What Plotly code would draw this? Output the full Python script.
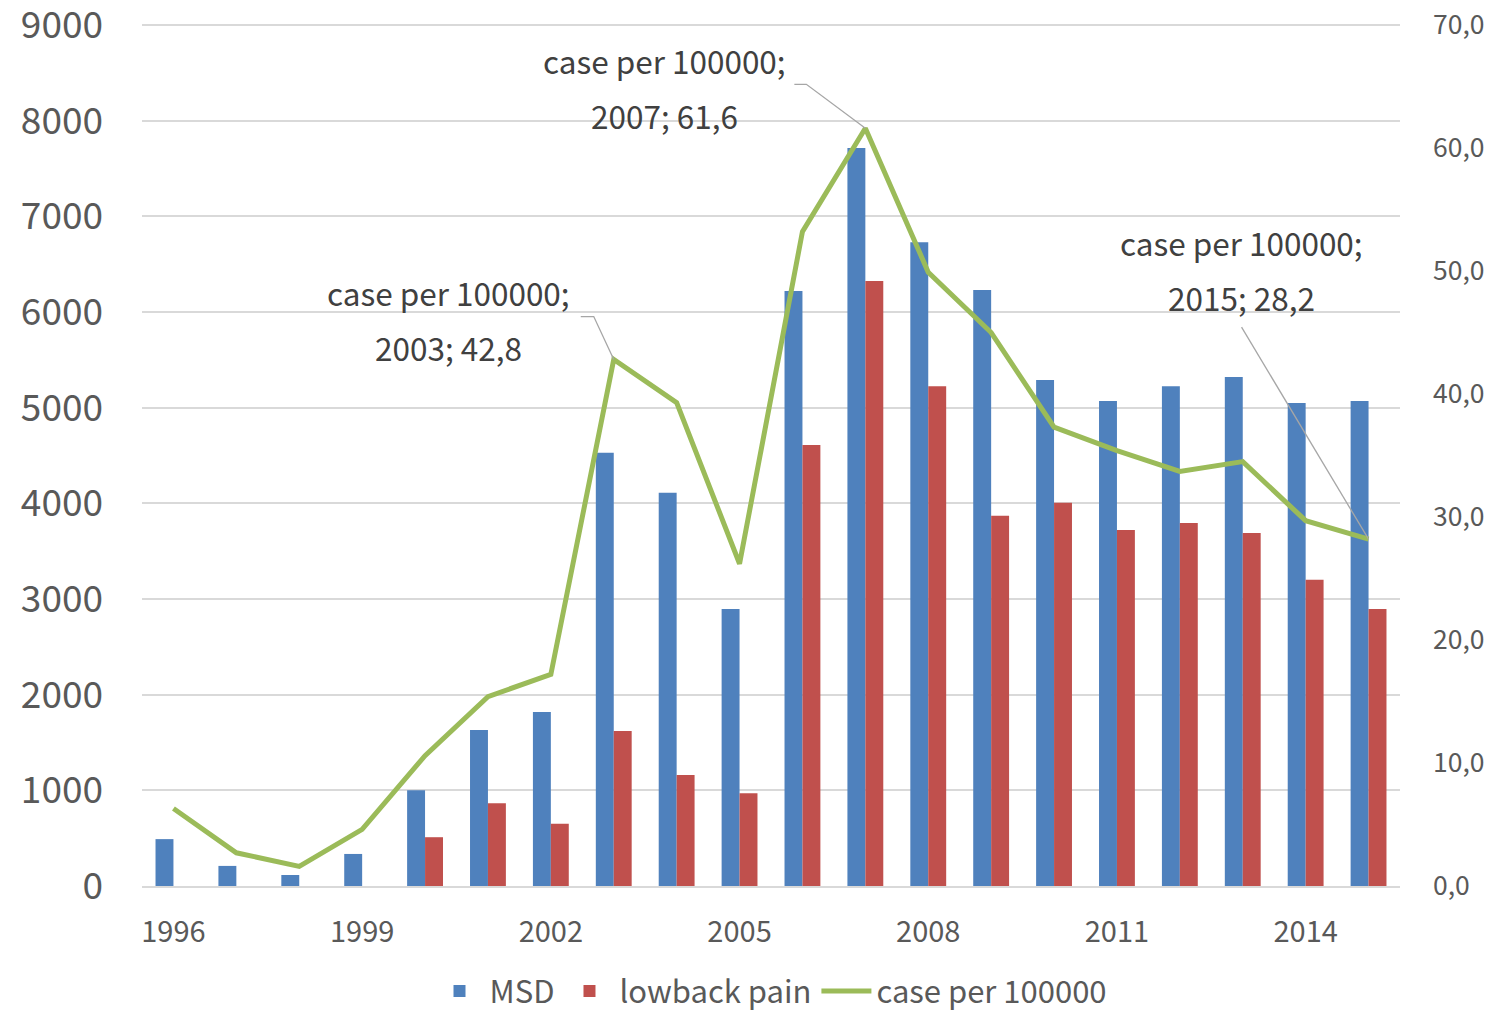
import plotly.graph_objects as go

years = list(range(1996, 2016))
msd = [490, 210, 115, 335, 1000, 1630, 1820, 4530, 4110, 2895, 6220, 7715, 6730, 6230, 5290, 5070, 5225, 5320, 5050, 5070]
lowback = [0, 0, 0, 0, 510, 865, 650, 1620, 1160, 970, 4610, 6325, 5225, 3870, 4005, 3720, 3795, 3690, 3200, 2895]
rate = [6.3, 2.7, 1.6, 4.6, 10.6, 15.4, 17.2, 42.8, 39.3, 26.2, 53.2, 61.6, 49.9, 45.0, 37.3, 35.4, 33.7, 34.5, 29.7, 28.2]

left_ticks = list(range(0, 9001, 1000))
right_ticks = list(range(0, 71, 10))
right_text = [f"{v},0" for v in right_ticks]
x_ticks = [1996, 1999, 2002, 2005, 2008, 2011, 2014]

# labelled points: year, text offset (px), leader path (px, relative to point)
label_years = [2003, 2007, 2015]
label_text_dx = [-165, -201, -127]
label_text_dy = [68, 68, 297]  # upward offset of first line
label_leaders = [
    "M 0 0 L -20 43 L -33 43",
    "M 0 0 L -59 44 L -71 44",
    "M 0 0 L -127 212",
]

FONT = "Noto Sans CJK KR"
GREY = "#595959"
DARK = "#404040"

# 2 px of headroom above the top tick so its gridline is drawn; right axis scaled identically
PLOT_H = 863
Y_TOP = 9000 * PLOT_H / (PLOT_H - 2)
Y2_TOP = 70 * PLOT_H / (PLOT_H - 2)

fig = go.Figure()
fig.add_trace(go.Bar(x=years, y=msd, name="MSD", marker=dict(color="#4F81BD", line=dict(width=0))))
fig.add_trace(go.Bar(x=years, y=lowback, name="lowback pain", marker=dict(color="#C0504D", line=dict(width=0))))
fig.add_trace(go.Scatter(x=years, y=rate, name="case per 100000", mode="lines",
                         line=dict(color="#9BBB59", width=5), yaxis="y2"))

for yr, dx, dy, path in zip(label_years, label_text_dx, label_text_dy, label_leaders):
    v = rate[years.index(yr)]
    fig.add_annotation(x=yr, y=v, xref="x", yref="y2", text="case per 100000;",
                       showarrow=False, xshift=dx, yshift=dy,
                       font=dict(family=FONT, size=31.5, color=DARK))
    fig.add_annotation(x=yr, y=v, xref="x", yref="y2", text=f"{yr}; {str(v).replace('.', ',')}",
                       showarrow=False, xshift=dx, yshift=dy - 55,
                       font=dict(family=FONT, size=31.5, color=DARK))
    fig.add_shape(type="path", xref="x", yref="y2", xsizemode="pixel", ysizemode="pixel",
                  xanchor=yr, yanchor=v, path=path,
                  line=dict(color="#A6A6A6", width=1.3), layer="above")

fig.update_layout(
    width=1504, height=1012,
    margin=dict(l=134, r=112, t=15, b=134, autoexpand=False),
    paper_bgcolor="white", plot_bgcolor="white",
    barmode="group", bargap=0.43, bargroupgap=0,
    font=dict(family=FONT, color=GREY),
    xaxis=dict(range=[1995.5, 2015.5], tickvals=x_ticks, ticktext=[str(t) for t in x_ticks],
               showgrid=False, showline=True, linecolor="#D9D9D9", linewidth=2,
               tickfont=dict(size=29, color=GREY), ticks="", ticklabelstandoff=19, automargin=False),
    yaxis=dict(range=[0, Y_TOP], tickvals=left_ticks, showgrid=True, gridcolor="#D9D9D9", gridwidth=1.5,
               tickfont=dict(size=37, color=GREY), zeroline=False, ticks="", ticklabelstandoff=38,
               automargin=False, ticklabeloverflow="allow"),
    yaxis2=dict(range=[0, Y2_TOP], tickvals=right_ticks, ticktext=right_text, overlaying="y", side="right",
                showgrid=False, zeroline=False, tickfont=dict(size=26.5, color=GREY), ticklabelstandoff=32,
                automargin=False, ticklabeloverflow="allow"),
    legend=dict(orientation="h", x=0.5, xanchor="center", y=-0.122, yanchor="middle",
                font=dict(size=31, color=GREY), traceorder="normal", itemwidth=50),
)

fig.write_html("out.html")
